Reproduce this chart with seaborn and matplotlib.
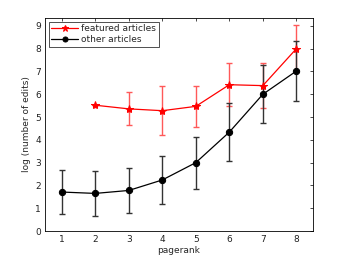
import matplotlib
matplotlib.use("Agg")
import matplotlib.pyplot as plt
import seaborn as sns
import pandas as pd

sns.set_theme(style="white")
plt.rcParams['font.family'] = ['DejaVu Sans']

pagerank_featured = [2, 3, 4, 5, 6, 7, 8]
featured_mean = [5.52, 5.36, 5.28, 5.47, 6.42, 6.38, 8.00]
featured_err = [0.0, 0.72, 1.08, 0.90, 0.94, 0.99, 1.03]

pagerank_other = [1, 2, 3, 4, 5, 6, 7, 8]
other_mean = [1.71, 1.65, 1.78, 2.24, 3.00, 4.34, 6.00, 7.02]
other_err = [0.96, 0.99, 0.99, 1.06, 1.14, 1.28, 1.27, 1.32]

xticks = [1, 2, 3, 4, 5, 6, 7, 8]
yticks = [0, 1, 2, 3, 4, 5, 6, 7, 8, 9]

df_f = pd.DataFrame({"pagerank": pagerank_featured, "edits": featured_mean, "err": featured_err})
df_o = pd.DataFrame({"pagerank": pagerank_other, "edits": other_mean, "err": other_err})

fig = plt.figure(figsize=(3.46, 2.60), dpi=100)
ax = fig.add_axes([0.130, 0.1115, 0.775, 0.8195])

ax.errorbar(df_f["pagerank"], df_f["edits"], yerr=df_f["err"], fmt="none",
            ecolor=(1, 0.35, 0.35), elinewidth=1.0, capsize=2.5, capthick=1.0, zorder=2)
ax.errorbar(df_o["pagerank"], df_o["edits"], yerr=df_o["err"], fmt="none",
            ecolor=(0.2, 0.2, 0.2), elinewidth=1.0, capsize=2.5, capthick=1.0, zorder=2)

sns.lineplot(data=df_f, x="pagerank", y="edits", ax=ax, color="red", marker="*",
             markersize=6, markeredgecolor="red", linewidth=0.9, label="featured articles", zorder=3)
sns.lineplot(data=df_o, x="pagerank", y="edits", ax=ax, color="black", marker="o",
             markersize=4.5, markeredgecolor="black", linewidth=0.9, label="other articles", zorder=3)

ax.set_xlim(0.5, 8.5)
ax.set_ylim(0, 9.35)
ax.set_xticks(xticks)
ax.set_yticks(yticks)
ax.set_xlabel("pagerank", fontsize=6.5, labelpad=1)
ax.set_ylabel("log (number of edits)", fontsize=6.5, labelpad=3)
ax.tick_params(axis="both", direction="in", length=2.5, width=0.5, labelsize=6.5,
               top=True, right=True, pad=3, color="black", labelcolor="#222222")
for s in ax.spines.values():
    s.set_color("black")
    s.set_linewidth(0.6)

leg = ax.legend(loc="upper left", fontsize=6.5, frameon=True, fancybox=False,
                borderpad=0.3, handlelength=3.0, labelspacing=0.2, borderaxespad=0.4,
                handletextpad=0.3, markerscale=0.8)
leg.get_frame().set_edgecolor("black")
leg.get_frame().set_linewidth(0.6)

fig.savefig("out.png", dpi=100)
